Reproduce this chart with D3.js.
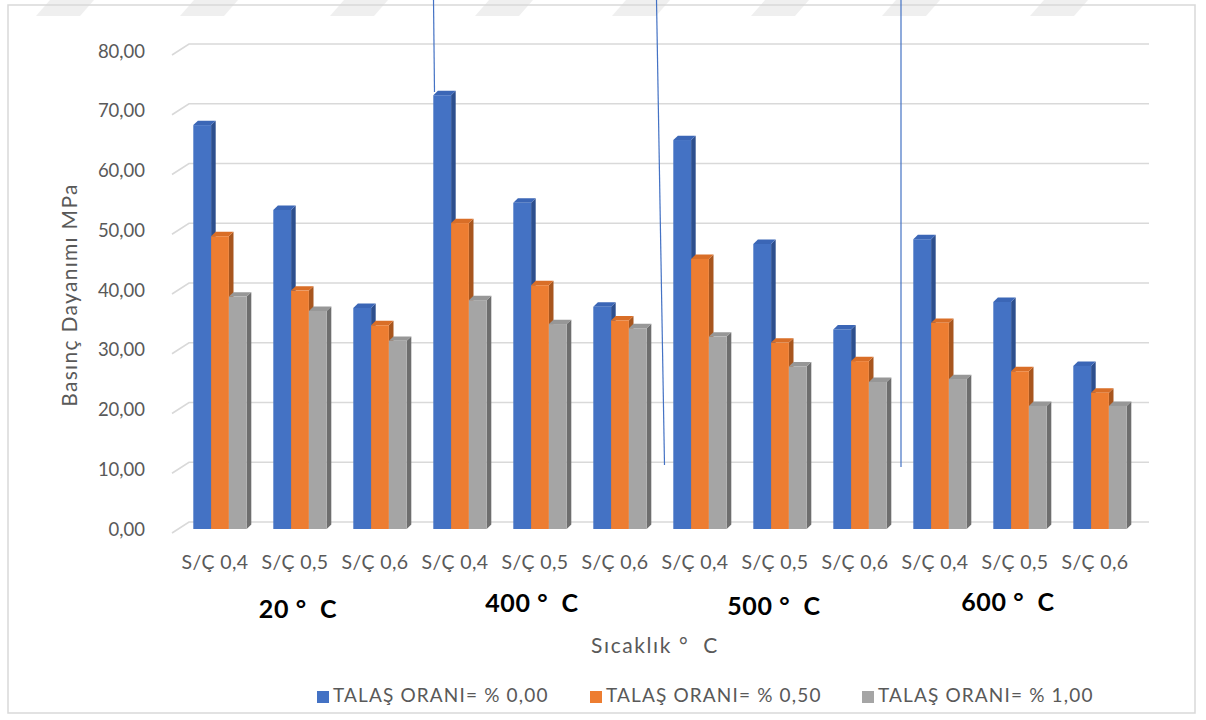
<!DOCTYPE html>
<html>
<head>
<meta charset="utf-8">
<script src="https://cdn.jsdelivr.net/npm/d3@7"></script>
<style>
  html, body { margin: 0; padding: 0; background: #fff; }
  svg { display: block; }
  text { font-family: Lato, "Open Sans", sans-serif; }
</style>
</head>
<body>
<svg id="chart" width="1206" height="720"></svg>
<script>
// Category labels (water/cement ratio) and temperature groups
const ratios = ["S/Ç 0,4", "S/Ç 0,5", "S/Ç 0,6"];
const temperatures = ["20 °  C", "400 °  C", "500 °  C", "600 °  C"];
const categories = temperatures.flatMap((t, ti) => ratios.map((r, ri) => ({ key: ti + "-" + ri, label: r })));

// Series: sawdust content
const seriesNames = ["TALAŞ ORANI= % 0,00", "TALAŞ ORANI= % 0,50", "TALAŞ ORANI= % 1,00"];
// Compressive strength (MPa), one value per category, in category order
const talas000 = [67.6, 53.4, 37.0, 72.6, 54.6, 37.2, 65.1, 47.7, 33.4, 48.5, 38.0, 27.3];
const talas050 = [49.0, 39.9, 34.1, 51.2, 40.8, 34.9, 45.2, 31.2, 28.1, 34.5, 26.4, 22.8];
const talas100 = [38.9, 36.5, 31.5, 38.3, 34.3, 33.6, 32.2, 27.2, 24.6, 25.1, 20.6, 20.6];
const seriesValues = [talas000, talas050, talas100];

const yTicks = [0, 10, 20, 30, 40, 50, 60, 70, 80];
const yTickLabels = ["0,00", "10,00", "20,00", "30,00", "40,00", "50,00", "60,00", "70,00", "80,00"];

const colors = {
  front: ["#4472C4", "#ED7D31", "#A5A5A5"],
  top:   ["#3B66B6", "#D96E27", "#979797"],
  side:  ["#2D4F8E", "#A8561E", "#6E6E6E"]
};

const svg = d3.select("#chart");

// faint banner stripes along the top edge
const stripeX = [36, 180, 330, 475, 612, 751, 882, 1030];
svg.append("g").selectAll("path").data(stripeX).join("path")
  .attr("d", x => `M${x + 14},0 L${x + 58},0 L${x + 44},16 L${x},16 Z`)
  .attr("fill", "#efefef");

// chart frame
svg.append("rect").attr("x", 8).attr("y", 5).attr("width", 1187).attr("height", 708)
  .attr("fill", "none").attr("stroke", "#d9d9d9").attr("stroke-width", 1.5);

// 3D geometry: back wall vs. front edge offset, and bar depth
const wallDX = 17, wallDY = 11;
const barDX = 4.6, barDY = 4.4;

const yBack = d3.scaleLinear().domain([0, 80]).range([522, 44]);
const yFront = d3.scaleLinear().domain([0, 80]).range([522 + wallDY, 44 + wallDY]);
const yBar = d3.scaleLinear().domain([0, 80]).range([529, 51]);

const wallLeft = 189, wallRight = 1149;
const xCat = d3.scaleBand().domain(categories.map(c => c.key)).range([wallLeft - wallDX, wallRight - wallDX]);
const xSeries = d3.scaleBand().domain(d3.range(seriesNames.length)).range([21.3, 74.7]);

// gridlines on the back wall with the short side-wall diagonal
const grid = svg.append("g");
yTicks.forEach(v => {
  grid.append("path")
    .attr("d", `M${wallLeft - wallDX},${yFront(v)} L${wallLeft},${yBack(v)} L${wallRight},${yBack(v)}`)
    .attr("fill", "none").attr("stroke", "#d9d9d9").attr("stroke-width", 1.6);
});

// value axis labels
svg.append("g").selectAll("text").data(yTicks).join("text")
  .attr("x", 145).attr("y", v => yFront(v) - 2)
  .attr("text-anchor", "end").attr("dominant-baseline", "middle")
  .attr("fill", "#595959").attr("font-size", 18.5)
  .text((v, i) => yTickLabels[i]);

// 3D columns
const bars = svg.append("g");
categories.forEach((c, ci) => {
  seriesValues.forEach((vals, si) => {
    const v = vals[ci];
    const x = xCat(c.key) + xSeries(si);
    const w = xSeries.bandwidth();
    const y0 = yBar(0), y1 = yBar(v);
    const g = bars.append("g");
    g.append("path")
      .attr("d", `M${x + w},${y1} L${x + w + barDX},${y1 - barDY} L${x + w + barDX},${y0 - barDY} L${x + w},${y0} Z`)
      .attr("fill", colors.side[si]);
    g.append("path")
      .attr("d", `M${x},${y1} L${x + barDX},${y1 - barDY} L${x + w + barDX},${y1 - barDY} L${x + w},${y1} Z`)
      .attr("fill", colors.top[si]);
    g.append("rect")
      .attr("x", x).attr("y", y1).attr("width", w).attr("height", y0 - y1)
      .attr("fill", colors.front[si]);
  });
});

// category labels
svg.append("g").selectAll("text").data(categories).join("text")
  .attr("x", c => xCat(c.key) + xCat.bandwidth() / 2 + 3)
  .attr("y", 564)
  .attr("text-anchor", "middle").attr("dominant-baseline", "middle")
  .attr("fill", "#595959").attr("font-size", 19.5).attr("letter-spacing", 0.4)
  .text(c => c.label);

// temperature group labels
const groupPos = [[298, 612], [532, 606], [774, 609], [1008, 605]];
svg.append("g").selectAll("text").data(temperatures).join("text")
  .attr("x", (t, i) => groupPos[i][0]).attr("y", (t, i) => groupPos[i][1])
  .attr("text-anchor", "middle").attr("dominant-baseline", "middle")
  .attr("fill", "#000").attr("font-size", 25).attr("font-weight", "bold")
  .attr("letter-spacing", 0.6)
  .style("white-space", "pre")
  .text(t => t);

// axis titles
svg.append("text")
  .attr("x", 655).attr("y", 648)
  .attr("text-anchor", "middle").attr("dominant-baseline", "middle")
  .attr("fill", "#595959").attr("font-size", 21).attr("letter-spacing", 1.6)
  .style("white-space", "pre")
  .text("Sıcaklık °  C");

svg.append("text")
  .attr("transform", "translate(72,295) rotate(-90)")
  .attr("text-anchor", "middle").attr("dominant-baseline", "middle")
  .attr("fill", "#595959").attr("font-size", 21).attr("letter-spacing", 1.3)
  .text("Basınç Dayanımı MPa");

// annotation leader lines
const leaders = [[[433.5, 0], [434.5, 92]], [[656.5, 0], [664.5, 465]], [[901, 0], [901, 467]]];
svg.append("g").selectAll("line").data(leaders).join("line")
  .attr("x1", d => d[0][0]).attr("y1", d => d[0][1])
  .attr("x2", d => d[1][0]).attr("y2", d => d[1][1])
  .attr("stroke", "#4472C4").attr("stroke-width", 1.2);

// legend
const legendX = [317, 590, 862];
const legend = svg.append("g").selectAll("g").data(seriesNames).join("g")
  .attr("transform", (d, i) => `translate(${legendX[i]},697)`);
legend.append("rect").attr("x", 0).attr("y", -6).attr("width", 12).attr("height", 12)
  .attr("fill", (d, i) => colors.front[i]);
legend.append("text").attr("x", 16).attr("y", 0)
  .attr("dominant-baseline", "middle").attr("fill", "#595959").attr("font-size", 19)
  .attr("letter-spacing", 1.15)
  .text(d => d);
</script>
</body>
</html>
